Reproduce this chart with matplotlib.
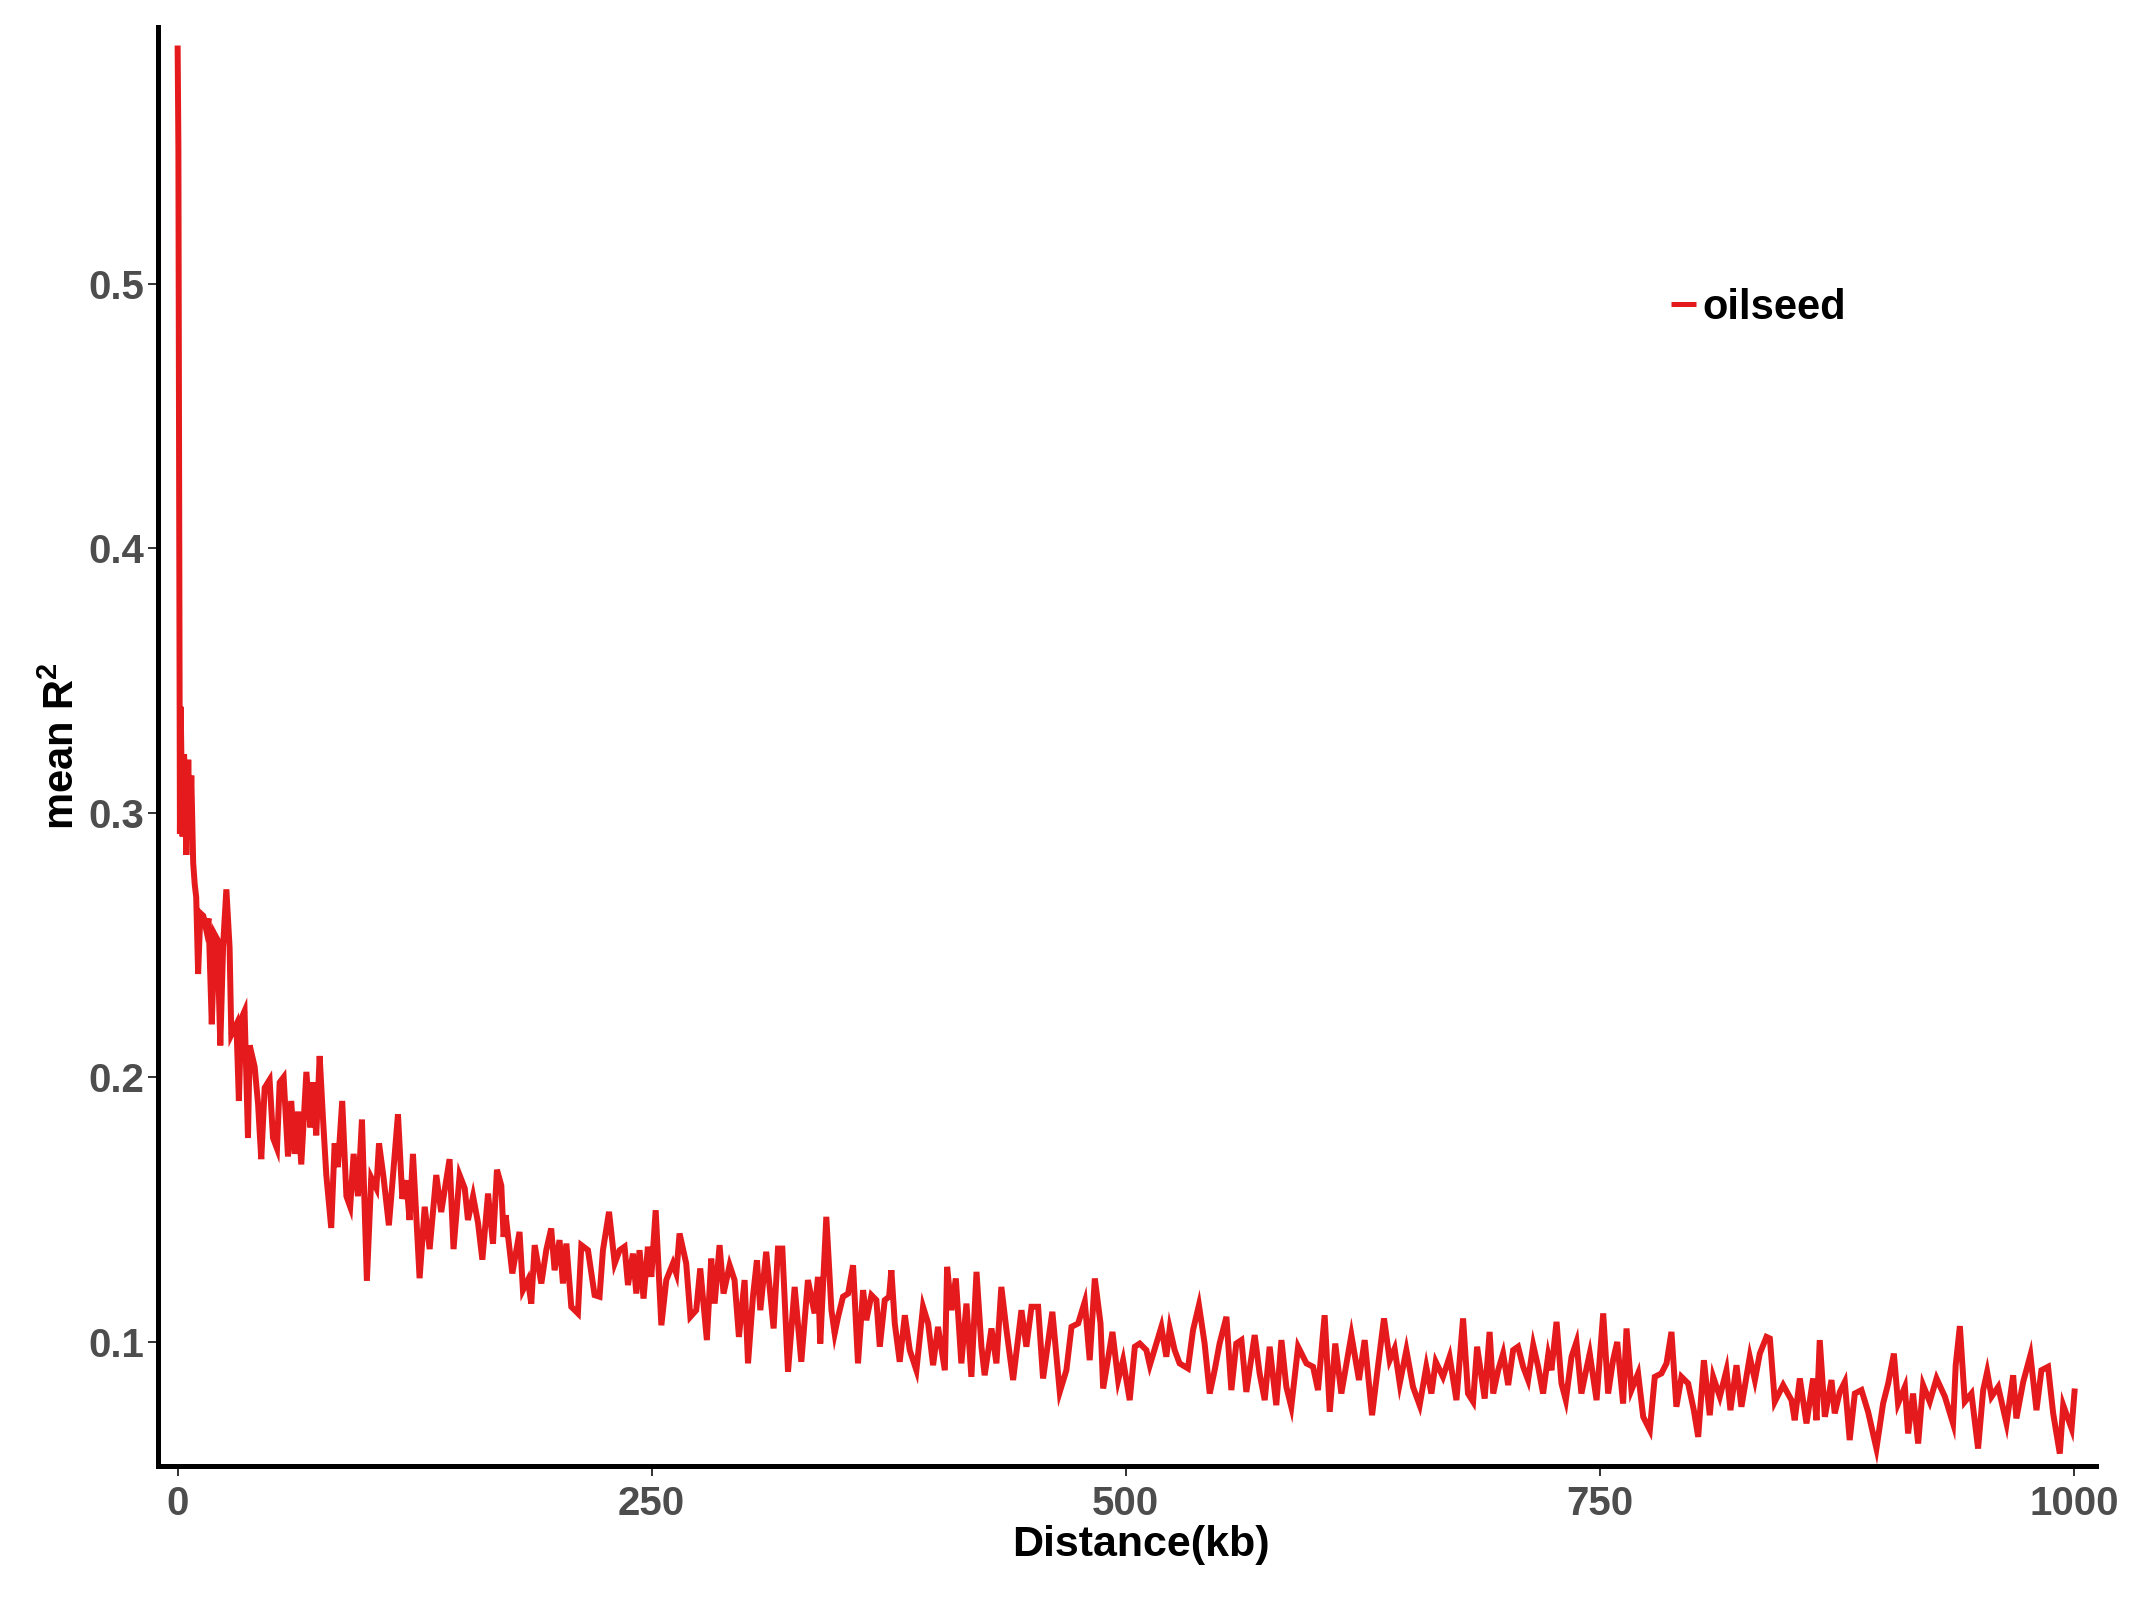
import matplotlib
matplotlib.use("Agg")
import matplotlib.pyplot as plt
import numpy as np

# ---------------- data ----------------
dist_a = [0.0, 0.4, 0.8, 1.2, 1.6, 2.6, 3.4, 4.6, 5.6, 6.4, 7.2, 8.2, 9.0, 9.8, 10.8, 12.0,
          13.5, 15.0, 16.3, 18.0, 19.5, 21.0, 22.5, 24.0, 25.7, 27.4, 28.3, 31.0, 32.3, 33.5,
          35.3, 37.1, 38.0, 40.6, 42.4, 44.1, 45.9, 48.5, 50.3, 52.4, 53.8, 55.9, 58.2, 59.9,
          61.7, 63.5, 65.2, 67.9, 70.0, 71.4, 73.1, 74.9, 76.6, 78.4, 81.0, 82.8, 84.5, 86.8,
          89.0, 91.0, 92.8, 95.1, 97.2, 99.8, 102.1, 104.8, 106.2, 108.6, 111.4, 113.6, 116.2,
          118.5, 120.6, 122.3, 124.1, 127.6, 130.3, 132.9, 136.4, 139.0, 143.4, 145.5, 148.7,
          151.4, 153.1, 155.8, 158.4, 160.7, 163.7, 166.3, 168.4, 170.7]
r2_a = [0.590, 0.551, 0.415, 0.292, 0.340, 0.291, 0.322, 0.284, 0.320, 0.292, 0.314, 0.281,
        0.273, 0.268, 0.239, 0.262, 0.261, 0.256, 0.260, 0.220, 0.254, 0.252, 0.212, 0.250,
        0.271, 0.249, 0.216, 0.220, 0.191, 0.222, 0.225, 0.177, 0.212, 0.204, 0.190, 0.169,
        0.196, 0.199, 0.177, 0.173, 0.198, 0.200, 0.170, 0.191, 0.171, 0.187, 0.167, 0.202,
        0.181, 0.198, 0.178, 0.208, 0.185, 0.163, 0.143, 0.175, 0.166, 0.191, 0.155, 0.151,
        0.171, 0.155, 0.184, 0.123, 0.162, 0.158, 0.175, 0.162, 0.144, 0.163, 0.186, 0.154,
        0.161, 0.146, 0.171, 0.124, 0.151, 0.135, 0.163, 0.149, 0.169, 0.135, 0.163, 0.158,
        0.146, 0.155, 0.145, 0.131, 0.156, 0.137, 0.165, 0.159]

dist_b = [171.9, 173.0, 175.1, 176.5, 178.6, 180.3, 182.1, 184.7, 186.5, 188.3, 191.8, 194.4,
          197.0, 198.8, 201.4, 203.2, 205.0, 207.6, 211.1, 212.9, 216.4, 219.9, 222.5, 224.3,
          227.5, 230.5, 233.1, 235.7, 237.5, 240.1, 241.9, 243.6, 245.7, 248.0, 249.8, 252.1,
          255.1, 257.7, 261.2, 263.0, 264.7, 268.2, 270.4, 273.5, 275.6, 279.1, 281.4, 283.2,
          285.8, 287.9, 291.1, 293.7, 296.0, 299.0, 300.8, 303.4, 305.5, 307.3, 310.4, 314.3,
          316.6, 318.9, 321.9, 325.4, 328.9, 332.4, 335.9, 337.7, 338.9, 342.1]
r2_b = [0.1396, 0.1478, 0.1346, 0.1258, 0.1346, 0.1415, 0.1195, 0.1233, 0.1144, 0.1365, 0.1220,
        0.1346, 0.1428, 0.1270, 0.1384, 0.1220, 0.1371, 0.1132, 0.1107, 0.1365, 0.1346, 0.1176,
        0.1170, 0.1346, 0.1491, 0.1296, 0.1346, 0.1359, 0.1214, 0.1333, 0.1182, 0.1346, 0.1163,
        0.1359, 0.1245, 0.1497, 0.1062, 0.1233, 0.1296, 0.1258, 0.1409, 0.1296, 0.1094, 0.1119,
        0.1277, 0.1006, 0.1314, 0.1144, 0.1365, 0.1182, 0.1289, 0.1233, 0.1018, 0.1233, 0.0918,
        0.1170, 0.1308, 0.1119, 0.1340, 0.1050, 0.1352, 0.1352, 0.0886, 0.1207, 0.0924, 0.1233,
        0.1107, 0.1245, 0.0993, 0.1472]

dist_c = [344.8, 346.5, 348.3, 350.9, 353.6, 356.2, 358.8, 361.5, 363.2, 365.9, 368.5, 370.3,
          372.9, 375.2, 376.4, 378.2, 380.8, 383.5, 386.1, 389.6, 393.1, 395.8, 398.4, 401.0,
          404.6, 405.8, 408.1, 410.4, 413.3, 416.0, 418.6, 421.3, 423.9, 425.6, 429.2, 431.8,
          434.4, 437.1, 440.6, 445.0, 447.6, 450.3, 453.8, 456.4, 461.3, 465.2, 468.7, 471.4,
          474.9, 478.4, 481.0, 483.7, 486.7, 488.1, 493.0, 496.0, 498.6, 502.1, 504.8, 507.4,
          510.9, 512.7]
r2_c = [0.1119, 0.1031, 0.1094, 0.1170, 0.1182, 0.1289, 0.0918, 0.1195, 0.1081, 0.1176, 0.1157,
        0.0981, 0.1157, 0.1170, 0.1270, 0.1069, 0.0924, 0.1100, 0.0968, 0.0892, 0.1132, 0.1069,
        0.0911, 0.1056, 0.0892, 0.1283, 0.1119, 0.1239, 0.0918, 0.1144, 0.0867, 0.1264, 0.0981,
        0.0873, 0.1050, 0.0918, 0.1207, 0.1044, 0.0855, 0.1119, 0.0981, 0.1132, 0.1132, 0.0861,
        0.1113, 0.0810, 0.0892, 0.1056, 0.1069, 0.1151, 0.0930, 0.1239, 0.1069, 0.0823, 0.1037,
        0.0855, 0.0930, 0.0779, 0.0981, 0.0993, 0.0968, 0.0911]

dist_d = [518.8, 521.4, 523.2, 525.8, 528.4, 532.8, 535.5, 538.6, 541.6, 544.3, 546.9, 549.5,
          553.1, 555.7, 558.3, 561.0, 563.6, 568.0, 570.6, 573.3, 575.9, 579.4, 582.1, 584.7,
          587.3, 590.9, 595.3, 598.8, 601.4, 604.9, 607.6, 610.5, 613.7, 619.0, 623.0, 626.0,
          629.9, 633.0, 636.2, 639.2, 641.8, 644.5, 648.0, 651.5, 655.0, 658.5, 661.2, 663.5,
          667.3, 670.8, 674.4, 677.9, 680.5, 683.2, 685.3, 689.3, 691.9]
r2_d = [0.1056, 0.0943, 0.1050, 0.0968, 0.0918, 0.0899, 0.1044, 0.1138, 0.0993, 0.0804, 0.0892,
        0.0993, 0.1094, 0.0817, 0.0993, 0.1006, 0.0810, 0.1025, 0.0880, 0.0779, 0.0981, 0.0760,
        0.1006, 0.0829, 0.0754, 0.0981, 0.0918, 0.0905, 0.0817, 0.1100, 0.0735, 0.0993, 0.0804,
        0.1025, 0.0855, 0.1006, 0.0722, 0.0905, 0.1088, 0.0930, 0.0974, 0.0842, 0.0968, 0.0829,
        0.0760, 0.0905, 0.0804, 0.0924, 0.0867, 0.0943, 0.0779, 0.1088, 0.0804, 0.0773, 0.0981,
        0.0785, 0.1037]

dist_e = [693.8, 696.4, 699.0, 701.7, 704.3, 706.9, 709.6, 712.2, 714.9, 717.5, 720.1, 722.8,
          724.5, 727.2, 729.8, 732.1, 735.1, 737.7, 740.3, 743.0, 744.7, 748.3, 751.8, 754.4,
          757.0, 759.2, 762.3, 764.1, 766.7, 770.2, 772.9, 776.4, 779.0, 782.5, 785.2, 787.8,
          790.4, 793.1, 796.6, 799.6, 801.9, 804.9, 808.0, 809.8, 813.3, 816.8, 818.9, 822.1,
          824.7, 829.1, 831.8, 834.4, 837.9, 839.7, 842.3, 846.7]
r2_e = [0.0804, 0.0892, 0.0955, 0.0836, 0.0968, 0.0981, 0.0905, 0.0855, 0.0987, 0.0905, 0.0804,
        0.0949, 0.0892, 0.1075, 0.0842, 0.0779, 0.0943, 0.0999, 0.0804, 0.0899, 0.0955, 0.0779,
        0.1107, 0.0804, 0.0930, 0.0999, 0.0766, 0.1050, 0.0817, 0.0880, 0.0716, 0.0666, 0.0867,
        0.0880, 0.0918, 0.1037, 0.0754, 0.0867, 0.0842, 0.0741, 0.0640, 0.0930, 0.0722, 0.0867,
        0.0792, 0.0892, 0.0741, 0.0911, 0.0754, 0.0943, 0.0855, 0.0955, 0.1018, 0.1012, 0.0773,
        0.0836]

dist_f = [851.1, 852.8, 855.5, 859.0, 862.5, 864.3, 866.0, 868.7, 872.2, 873.9, 876.6, 879.2,
          881.8, 884.5, 888.0, 891.5, 895.9, 899.4, 902.1, 905.1, 907.3, 910.9, 912.6, 915.2,
          917.9, 920.5, 924.0, 927.6, 932.0, 936.3, 937.7, 939.9, 942.5, 946.0, 949.5, 952.2,
          954.3, 956.6, 960.1, 964.5, 968.0, 969.7, 973.3, 977.1, 980.3, 982.9, 986.4, 989.1,
          992.6, 994.4, 998.8, 1000.5]
r2_f = [0.0779, 0.0703, 0.0861, 0.0691, 0.0861, 0.0703, 0.1006, 0.0716, 0.0855, 0.0729, 0.0810,
        0.0848, 0.0628, 0.0804, 0.0817, 0.0735, 0.0596, 0.0766, 0.0842, 0.0955, 0.0766, 0.0829,
        0.0653, 0.0804, 0.0615, 0.0836, 0.0773, 0.0861, 0.0792, 0.0691, 0.0911, 0.1059, 0.0773,
        0.0804, 0.0596, 0.0817, 0.0886, 0.0792, 0.0829, 0.0691, 0.0873, 0.0710, 0.0848, 0.0949,
        0.0741, 0.0892, 0.0905, 0.0729, 0.0577, 0.0760, 0.0672, 0.0823]

group_name = "oilseed"
x_ticks = [0, 250, 500, 750, 1000]
y_ticks = [0.1, 0.2, 0.3, 0.4, 0.5]

distance = dist_a + dist_b + dist_c + dist_d + dist_e + dist_f
mean_r2 = r2_a + r2_b + r2_c + r2_d + r2_e + r2_f

# ---------------- figure ----------------
plt.rcParams['font.family'] = ['Liberation Sans', 'DejaVu Sans']
plt.rcParams['mathtext.fontset'] = 'custom'
plt.rcParams['mathtext.rm'] = 'Liberation Sans:bold'
plt.rcParams['mathtext.bf'] = 'Liberation Sans:bold'
plt.rcParams['mathtext.it'] = 'Liberation Sans:bold'

fig = plt.figure(figsize=(21.34, 15.98), dpi=100)
ax = fig.add_axes([0.0740, 0.0826, 0.9082, 0.9005])

red = '#E41A1C'
ax.plot(distance, mean_r2, color=red, linewidth=4.3, solid_joinstyle='miter',
        solid_capstyle='butt', label=group_name)

ax.set_xlim(-10.4, 1011.7)
ax.set_ylim(0.053, 0.597)
ax.set_xticks(x_ticks)
ax.set_yticks(y_ticks)
ax.set_xticklabels([str(t) for t in x_ticks])
ax.set_yticklabels([f"{t:.1f}" for t in y_ticks])

for side in ['top', 'right']:
    ax.spines[side].set_visible(False)
for side in ['left', 'bottom']:
    ax.spines[side].set_linewidth(3.6)
    ax.spines[side].set_color('black')

ax.tick_params(axis='both', which='major', length=7, width=1.4, color='#333333',
               labelcolor='#4D4D4D', labelsize=29)
ax.tick_params(axis='x', pad=7)
ax.tick_params(axis='y', pad=3)
for lab in ax.get_xticklabels() + ax.get_yticklabels():
    lab.set_fontweight('bold')

ax.set_xlabel('Distance(kb)', fontsize=31, fontweight='bold')
ax.xaxis.set_label_coords(0.507, -0.041, transform=ax.transAxes)
ax.xaxis.label.set_va('top')
ax.set_ylabel(r'mean R$^{\mathbf{2}}$', fontsize=30, fontweight='bold', labelpad=4)

leg = ax.legend(loc='center left', bbox_to_anchor=(0.77, 0.805), frameon=False,
                handlelength=0.6, handletextpad=0.15, borderpad=0,
                prop={'weight': 'bold', 'size': 30})
for h in leg.get_lines():
    h.set_linewidth(3.6)

fig.savefig('out.png', dpi=100, facecolor='white')
